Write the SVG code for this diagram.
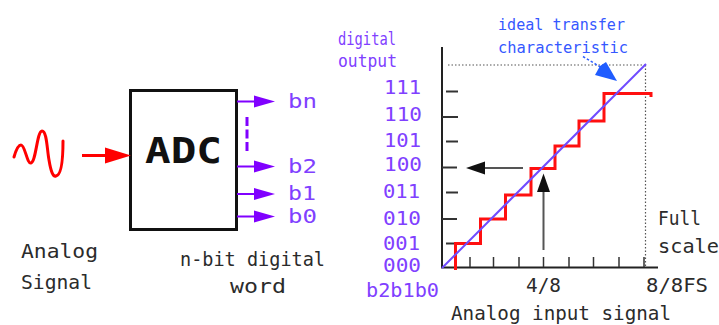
<svg xmlns="http://www.w3.org/2000/svg" width="719" height="325" viewBox="0 0 719 325">
<style>
  text { font-family: "DejaVu Sans Mono", "Liberation Mono", monospace; }
  .k { fill: #2b2b2b; }
  .p { fill: #8040ff; }
  .bl { fill: #3558ff; }
  .pl { stroke: #8000ff; stroke-width: 2; fill: none; }
  .ph { fill: #8000ff; }
  .tick { stroke: #333; stroke-width: 2; }
  .dot { stroke: #555; stroke-width: 1.2; stroke-dasharray: 1.5 2; fill: none; }
</style>
<rect width="719" height="325" fill="#fff"/>

<!-- Analog signal node -->
<g id="analog-signal">
  <path d="M14,157 C16,150 18,145 21,145 C25,145 27,164 31,163 C36,162 37,131 42,131 C47,131 47,150 49,160 C51,172 53,177 56,176 C62,175 63,155 63,141" fill="none" stroke="#ff0000" stroke-width="3" stroke-linecap="round"/>
  <text class="k" x="21" y="258" font-size="20" textLength="77" lengthAdjust="spacingAndGlyphs">Analog</text>
  <text class="k" x="21" y="289" font-size="20" textLength="71" lengthAdjust="spacingAndGlyphs">Signal</text>
</g>

<!-- ADC node -->
<g id="adc">
  <rect x="130.5" y="90.5" width="106" height="139" fill="#fff" stroke="#111" stroke-width="3"/>
  <text x="145" y="163" font-family="'Liberation Sans', Arial, sans-serif" font-weight="bold" font-size="35" fill="#111" textLength="77" lengthAdjust="spacingAndGlyphs">ADC</text>
  <text class="k" x="180" y="266" font-size="19" textLength="145" lengthAdjust="spacingAndGlyphs">n-bit digital</text>
  <text class="k" x="230" y="293" font-size="19" textLength="56" lengthAdjust="spacingAndGlyphs">word</text>
</g>

<!-- Output bit labels -->
<g id="output-bits">
  <text class="p" x="288" y="108" font-size="19" textLength="29" lengthAdjust="spacingAndGlyphs">bn</text>
  <text class="p" x="288" y="173" font-size="19" textLength="29" lengthAdjust="spacingAndGlyphs">b2</text>
  <text class="p" x="288" y="200" font-size="19" textLength="28" lengthAdjust="spacingAndGlyphs">b1</text>
  <text class="p" x="288" y="223" font-size="19" textLength="29" lengthAdjust="spacingAndGlyphs">b0</text>
</g>

<!-- Connectors -->
<g id="connectors">
  <line x1="82" y1="155.5" x2="108" y2="155.5" stroke="#ff0000" stroke-width="3"/>
  <polygon points="105,147.5 131,155.5 105,163.5" fill="#ff0000"/>
  <line class="pl" x1="237" y1="101.5" x2="257" y2="101.5"/>
  <polygon class="ph" points="254,95.5 275,101.5 254,107.5"/>
  <line class="pl" x1="237" y1="166.5" x2="257" y2="166.5" stroke="#a070ff"/>
  <polygon class="ph" points="254,160.5 275,166.5 254,172.5"/>
  <line class="pl" x1="237" y1="194" x2="257" y2="194"/>
  <polygon class="ph" points="254,188 275,194 254,200"/>
  <line class="pl" x1="237" y1="216.5" x2="257" y2="216.5"/>
  <polygon class="ph" points="254,210.5 275,216.5 254,222.5"/>
  <line x1="247" y1="117" x2="247" y2="152" stroke="#8000ff" stroke-width="3" stroke-dasharray="9 3.5"/>
</g>

<!-- Transfer characteristic graph -->
<g id="graph">
  <text class="p" x="338" y="45" font-size="17" textLength="58" lengthAdjust="spacingAndGlyphs">digital</text>
  <text class="p" x="338" y="67" font-size="17" textLength="59" lengthAdjust="spacingAndGlyphs">output</text>
  <g class="p" font-size="19">
    <text x="384" y="94" textLength="37" lengthAdjust="spacingAndGlyphs">111</text>
    <text x="384" y="121" textLength="38" lengthAdjust="spacingAndGlyphs">110</text>
    <text x="384" y="147" textLength="37" lengthAdjust="spacingAndGlyphs">101</text>
    <text x="384" y="171" textLength="38" lengthAdjust="spacingAndGlyphs">100</text>
    <text x="383" y="198" textLength="37" lengthAdjust="spacingAndGlyphs">011</text>
    <text x="383" y="224.5" textLength="38" lengthAdjust="spacingAndGlyphs">010</text>
    <text x="383" y="250" textLength="37" lengthAdjust="spacingAndGlyphs">001</text>
    <text x="383" y="272" textLength="38" lengthAdjust="spacingAndGlyphs">000</text>
  </g>
  <text class="p" x="366" y="297" font-size="19" textLength="73" lengthAdjust="spacingAndGlyphs">b2b1b0</text>

  <!-- dotted full-scale box -->
  <line class="dot" x1="448" y1="65" x2="646" y2="65"/>
  <line class="dot" x1="645.5" y1="65" x2="645.5" y2="267"/>

  <!-- axes -->
  <line x1="442" y1="47" x2="442" y2="268" stroke="#222" stroke-width="2"/>
  <line x1="441" y1="267.5" x2="658" y2="267.5" stroke="#222" stroke-width="2"/>

  <!-- y ticks -->
  <line class="tick" x1="446" y1="91.5" x2="458" y2="91.5" stroke="#888"/>
  <line class="tick" x1="442" y1="117" x2="458" y2="117" stroke="#777"/>
  <line class="tick" x1="446" y1="141.5" x2="458" y2="141.5" stroke="#888"/>
  <line class="tick" x1="442" y1="167.5" x2="457" y2="167.5"/>
  <line class="tick" x1="446" y1="192.5" x2="458" y2="192.5"/>
  <line class="tick" x1="442" y1="219" x2="457" y2="219"/>
  <line class="tick" x1="446" y1="243.5" x2="457" y2="243.5"/>

  <!-- x ticks -->
  <g stroke="#333" stroke-width="1.5">
    <line x1="470" y1="257" x2="470" y2="267"/>
    <line x1="493.5" y1="257" x2="493.5" y2="267"/>
    <line x1="519" y1="257" x2="519" y2="267"/>
    <line x1="543.5" y1="257" x2="543.5" y2="267"/>
    <line x1="569" y1="257" x2="569" y2="267"/>
    <line x1="593.5" y1="257" x2="593.5" y2="267"/>
    <line x1="619" y1="257" x2="619" y2="267"/>
    <line x1="644" y1="257" x2="644" y2="267"/>
  </g>

  <!-- staircase -->
  <polyline points="455.5,270 455.5,243.5 480.5,243.5 480.5,219 505.5,219 505.5,195 531,195 531,168.5 555,168.5 555,146 579,146 579,121 604,121 604,93.5 651,93.5 651,97" fill="none" stroke="#ff1010" stroke-width="3"/>

  <!-- ideal line -->
  <line x1="442" y1="268" x2="646" y2="64" stroke="#6f4bff" stroke-width="2"/>

  <!-- reading arrows -->
  <line x1="480" y1="168" x2="523" y2="168" stroke="#555" stroke-width="2"/>
  <polygon points="466,168 485,161.5 485,174.5" fill="#111"/>
  <line x1="543.5" y1="189" x2="543.5" y2="250" stroke="#555" stroke-width="2"/>
  <polygon points="543.5,173.5 537,192 550,192" fill="#111"/>

  <!-- annotation -->
  <text class="bl" x="498" y="30" font-size="16" textLength="127" lengthAdjust="spacingAndGlyphs">ideal transfer</text>
  <text class="bl" x="498" y="53" font-size="16" textLength="130" lengthAdjust="spacingAndGlyphs">characteristic</text>
  <line x1="583" y1="56.5" x2="602" y2="68" stroke="#2f5fff" stroke-width="1.5" stroke-dasharray="2.5 2"/>
  <polygon points="617,81 595,75 600,66 606,62" fill="#1f5cff"/>

  <text class="k" x="658" y="225" font-size="20" textLength="43" lengthAdjust="spacingAndGlyphs">Full</text>
  <text class="k" x="658" y="253" font-size="20" textLength="61" lengthAdjust="spacingAndGlyphs">scale</text>
  <text class="k" x="526" y="292" font-size="19" textLength="35" lengthAdjust="spacingAndGlyphs">4/8</text>
  <text class="k" x="646" y="292" font-size="19" textLength="62" lengthAdjust="spacingAndGlyphs">8/8FS</text>
  <text class="k" x="451" y="320" font-size="20" textLength="220" lengthAdjust="spacingAndGlyphs">Analog input signal</text>
</g>
</svg>
